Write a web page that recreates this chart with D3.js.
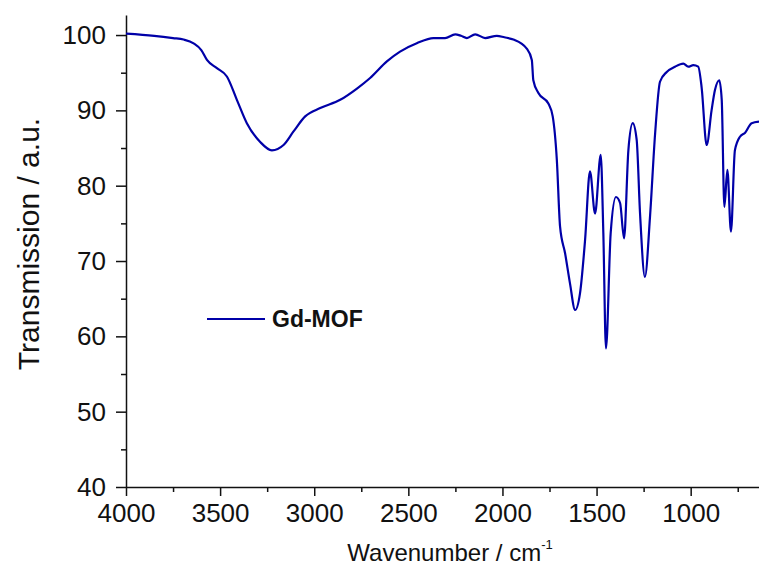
<!DOCTYPE html>
<html>
<head>
<meta charset="utf-8">
<script src="https://cdn.jsdelivr.net/npm/d3@7"></script>
<style>
  body { margin: 0; background: #fff; }
  svg text { font-family: Arial, "Liberation Sans", sans-serif; fill: #111; }
</style>
</head>
<body>
<svg id="chart" width="759" height="565"></svg>
<script>
const wavenumber = [4000, 3850, 3750, 3694, 3641, 3600, 3570, 3517, 3464, 3411, 3358, 3287, 3225, 3163, 3110, 3048,
  2968, 2862, 2773, 2703, 2614, 2544, 2455, 2367, 2305, 2251, 2220, 2189, 2145, 2092, 2030, 1990, 1942, 1871,
  1844, 1836, 1809, 1756, 1733, 1711, 1694, 1667, 1641, 1614, 1588, 1561, 1535, 1508, 1478, 1464, 1450, 1425,
  1397, 1375, 1354, 1331, 1308, 1287, 1269, 1243, 1216, 1189, 1163, 1127, 1083, 1039, 1013, 986, 960, 942,
  915, 889, 871, 848, 835, 821, 805, 786, 765, 738, 712, 676, 637];
const transmission = [100.2, 99.9, 99.6, 99.4, 98.9, 98.0, 96.7, 95.6, 94.5, 91.4, 88.3, 85.8, 84.7, 85.4, 87.2, 89.2,
  90.3, 91.4, 92.9, 94.3, 96.5, 97.8, 98.9, 99.6, 99.6, 100.1, 99.9, 99.6, 100.1, 99.6, 99.9, 99.7, 99.4, 98.2,
  96.7, 94.0, 92.3, 90.9, 89.2, 83.4, 74.6, 71.0, 67.0, 63.5, 65.7, 72.8, 81.9, 76.3, 84.1, 73.7, 58.4, 73.7,
  78.5, 77.7, 73.0, 84.7, 88.3, 86.1, 76.3, 67.9, 75.9, 86.9, 93.8, 95.1, 95.8, 96.2, 95.8, 96.0, 95.8, 93.1,
  85.4, 90.0, 92.7, 94.0, 91.4, 77.2, 82.1, 73.9, 84.7, 86.5, 87.0, 88.3, 88.5];

const xMajor = [4000, 3500, 3000, 2500, 2000, 1500, 1000];
const xMinor = [3750, 3250, 2750, 2250, 1750, 1250, 750];
const yMajor = [40, 50, 60, 70, 80, 90, 100];
const yMinor = [45, 55, 65, 75, 85, 95];
const seriesName = "Gd-MOF";

const svg = d3.select("#chart");
const plotLeft = 126, plotRight = 759, plotTop = 15, plotBottom = 487;

const x = d3.scaleLinear().domain([4000, 637]).range([plotLeft, plotRight]);
const y = d3.scaleLinear().domain([40, 102.66]).range([plotBottom, plotTop]);

// axes
const gx = svg.append("g").attr("transform", `translate(0,${plotBottom})`);
gx.call(d3.axisBottom(x).tickValues(xMajor).tickSize(9).tickSizeOuter(0).tickPadding(8).tickFormat(d3.format("d")));
gx.append("g").call(d3.axisBottom(x).tickValues(xMinor).tickSize(5).tickFormat(""))
  .select(".domain").remove();

const gy = svg.append("g").attr("transform", `translate(${plotLeft},0)`);
gy.call(d3.axisLeft(y).tickValues(yMajor).tickSize(10).tickSizeOuter(0).tickPadding(10));
gy.append("g").call(d3.axisLeft(y).tickValues(yMinor).tickSize(5).tickFormat(""))
  .select(".domain").remove();

svg.selectAll(".domain, .tick line").attr("stroke", "#111").attr("stroke-width", 1.5);
gx.selectAll(".tick text").style("font-size", "26px").style("font-family", "Arial, 'Liberation Sans', sans-serif");
gy.selectAll(".tick text").style("font-size", "26px").style("font-family", "Arial, 'Liberation Sans', sans-serif");

// axis titles
const xt = svg.append("text")
  .attr("x", 450).attr("y", 561)
  .attr("text-anchor", "middle")
  .style("font-size", "24px");
xt.append("tspan").text("Wavenumber / cm");
xt.append("tspan").attr("dy", -12).style("font-size", "13px").text("-1");

svg.append("text")
  .attr("transform", "translate(39,244) rotate(-90)")
  .attr("text-anchor", "middle")
  .style("font-size", "30px")
  .text("Transmission / a.u.");

// spectrum
const pts = wavenumber.map((w, i) => [w, transmission[i]]);
const line = d3.line()
  .x(d => x(d[0]))
  .y(d => y(d[1]))
  .curve(d3.curveMonotoneX);

svg.append("path")
  .datum(pts)
  .attr("fill", "none")
  .attr("stroke", "#0000a8")
  .attr("stroke-width", 2.2)
  .attr("d", line);

// legend
svg.append("line")
  .attr("x1", 207).attr("x2", 265)
  .attr("y1", 319).attr("y2", 319)
  .attr("stroke", "#0000a8").attr("stroke-width", 2.2);
svg.append("text")
  .attr("x", 272).attr("y", 327)
  .style("font-size", "23px").style("font-weight", "bold")
  .text(seriesName);
</script>
</body>
</html>
